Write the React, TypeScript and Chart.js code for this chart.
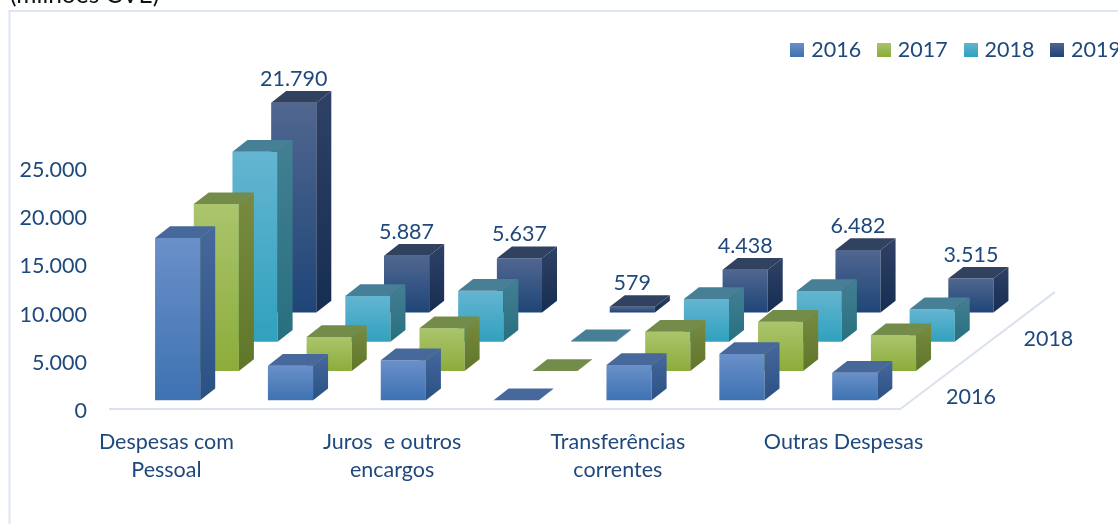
import React, { useEffect, useRef } from "react";
import { Chart, registerables } from "chart.js";

Chart.register(...registerables);

const categories: (string | string[])[] = [
  ["Despesas com", "Pessoal"],
  "",
  ["Juros  e outros", "encargos"],
  "",
  ["Transferências", "correntes"],
  "",
  "Outras Despesas",
];
const seriesNames = ["2016", "2017", "2018", "2019"];
const values2016 = [16870, 3600, 4160, 0, 3670, 4810, 2870];
const values2017 = [17350, 3530, 4440, 0, 4080, 5120, 3710];
const values2018 = [19750, 4750, 5300, 60, 4440, 5270, 3370];
const values2019 = [21790, 5887, 5637, 579, 4438, 6482, 3515];
const seriesValues = [values2016, values2017, values2018, values2019];
const depthTickLabels = ["2016", "", "2018", ""];
const yTicks = { min: 0, max: 25000, step: 5000 };

const TEXT = "#1f497d";
const FONT = "Lato, Carlito, Calibri, sans-serif";
const FONT_SIZE = 21.5;

type Shade = { front: [string, string]; side: [string, string]; top: string; solid: string };
const shades: Shade[] = [
  { front: ["#6a90c9", "#3e72b2"], side: ["#47689c", "#2a5184"], top: "#47689a", solid: "#4f81bd" },
  { front: ["#aac56c", "#8cac3b"], side: ["#788b42", "#5f7628"], top: "#748c49", solid: "#9bbb59" },
  { front: ["#64b5d1", "#30a1be"], side: ["#427f92", "#28707f"], top: "#467f96", solid: "#4bacc6" },
  { front: ["#506790", "#1f4578"], side: ["#2f4166", "#162d52"], top: "#30425f", solid: "#1f497d" },
];

const DEPTH_X = 15;
const DEPTH_Y = 11.7;
const STEP_X = 38.7;
const STEP_Y = -29.3;
const INSET_X = 11.2;
const INSET_Y = -9;
const LEGEND_SHIFT = 241;

const legendSwatch = (s: Shade) => {
  const c = document.createElement("canvas");
  c.width = 14;
  c.height = 14;
  const g = c.getContext("2d")!;
  const grad = g.createLinearGradient(0, 0, 0, 14);
  grad.addColorStop(0, s.front[0]);
  grad.addColorStop(1, s.front[1]);
  g.fillStyle = grad;
  g.fillRect(0, 0, 14, 14);
  return c;
};

const fmt = (v: number) => String(v).replace(/\B(?=(\d{3})+$)/g, ".");

const poly = (ctx: CanvasRenderingContext2D, pts: number[][], fill: string | CanvasGradient) => {
  ctx.beginPath();
  pts.forEach(([x, y], i) => (i ? ctx.lineTo(x, y) : ctx.moveTo(x, y)));
  ctx.closePath();
  ctx.fillStyle = fill;
  ctx.fill();
};

const drawBox = (
  ctx: CanvasRenderingContext2D,
  s: Shade,
  l: number,
  r: number,
  top: number,
  base: number
) => {
  const lin = (a: string, b: string, y0: number, y1: number) => {
    const g = ctx.createLinearGradient(0, y0, 0, Math.max(y1, y0 + 1));
    g.addColorStop(0, a);
    g.addColorStop(1, b);
    return g;
  };
  if (base - top > 0.5) {
    poly(ctx, [[l, top], [r, top], [r, base], [l, base]], lin(s.front[0], s.front[1], top, base));
    poly(
      ctx,
      [[r, top], [r + DEPTH_X, top - DEPTH_Y], [r + DEPTH_X, base - DEPTH_Y], [r, base]],
      lin(s.side[0], s.side[1], top - DEPTH_Y, base)
    );
  }
  poly(
    ctx,
    [[l, top], [l + DEPTH_X, top - DEPTH_Y], [r + DEPTH_X, top - DEPTH_Y], [r, top]],
    s.top
  );
};

const scene = {
  id: "scene3d",
  beforeLayout(chart: any) {
    const legend = chart.legend;
    if (legend && !legend.__wrapped) {
      const fit = legend.fit;
      legend.fit = function () {
        fit.call(this);
        this.height = 168.8 - chart.options.layout.padding.top;
      };
      legend.__wrapped = true;
    }
  },
  afterLayout(chart: any) {
    chart.legend.left += LEGEND_SHIFT;
    chart.legend.right += LEGEND_SHIFT;
  },
  beforeDraw(chart: any) {
    const { ctx, width, height } = chart;
    ctx.save();
    ctx.fillStyle = "#ffffff";
    ctx.fillRect(0, 0, width, height);
    ctx.strokeStyle = "#dce6f5";
    ctx.lineWidth = 2;
    ctx.beginPath();
    ctx.moveTo(9.5, height + 2);
    ctx.lineTo(9.5, 11);
    ctx.lineTo(width + 2, 11);
    ctx.stroke();
    ctx.fillStyle = "#111111";
    ctx.font = `24.5px ${FONT}`;
    ctx.textAlign = "left";
    ctx.textBaseline = "alphabetic";
    ctx.fillText("(milhões CVE)", 10, 3);
    ctx.restore();
  },
  beforeDatasetsDraw(chart: any) {
    const { ctx, chartArea } = chart;
    ctx.save();
    // side edge of the floor, running back from the end of the category axis
    ctx.strokeStyle = "#dbe2ee";
    ctx.lineWidth = 2;
    ctx.beginPath();
    ctx.moveTo(chartArea.right, chartArea.bottom);
    ctx.lineTo(chartArea.right + STEP_X * 4, chartArea.bottom + STEP_Y * 4);
    ctx.stroke();

    for (let d = seriesNames.length - 1; d >= 0; d--) {
      const meta = chart.getDatasetMeta(d);
      const ox = INSET_X + STEP_X * d;
      const oy = INSET_Y + STEP_Y * d;
      meta.data.forEach((el: any) => {
        const half = el.width / 2;
        drawBox(ctx, shades[d], el.x - half + ox, el.x + half + ox, el.y + oy, el.base + oy);
      });
    }

    ctx.fillStyle = TEXT;
    ctx.font = `${FONT_SIZE}px ${FONT}`;
    ctx.textAlign = "center";
    ctx.textBaseline = "middle";
    const last = seriesNames.length - 1;
    chart.getDatasetMeta(last).data.forEach((el: any, i: number) => {
      ctx.fillText(
        fmt(seriesValues[last][i]),
        el.x + INSET_X + STEP_X * last,
        el.y + INSET_Y + STEP_Y * last - 24
      );
    });
    depthTickLabels.forEach((t, d) => {
      if (!t) return;
      ctx.fillText(t, chartArea.right + 71 + STEP_X * d, chartArea.bottom - 12 + STEP_Y * d);
    });
    ctx.restore();
    return false;
  },
};

export default function App() {
  const ref = useRef<HTMLCanvasElement>(null);
  useEffect(() => {
    document.body.style.margin = "0";
    document.body.style.overflow = "hidden";
    const swatches = shades.map(legendSwatch);
    const chart = new Chart(ref.current!, {
      type: "bar",
      data: {
        labels: categories as any,
        datasets: seriesNames.map((name, i) => ({
          label: name,
          data: seriesValues[i],
          backgroundColor: shades[i].solid,
          grouped: false,
          barPercentage: 0.4,
          categoryPercentage: 1,
        })),
      },
      options: {
        animation: false,
        responsive: false,
        events: [],
        layout: { padding: { top: 19, left: 0, right: 1142 - 900, bottom: 0 } },
        font: { family: FONT, size: FONT_SIZE },
        plugins: {
          tooltip: { enabled: false },
          legend: {
            position: "top",
            align: "end",
            labels: {
              color: TEXT,
              font: { family: FONT, size: FONT_SIZE },
              padding: 20,
              usePointStyle: true,
              pointStyleWidth: 6,
              boxHeight: 14,
              generateLabels(chart: any) {
                const items = Chart.defaults.plugins.legend.labels.generateLabels(chart);
                items.forEach((it: any, i: number) => (it.pointStyle = swatches[i]));
                return items;
              },
            },
          },
        },
        scales: {
          x: {
            grid: { display: false, drawTicks: false },
            border: { display: true, color: "#dbe2ee", width: 2 },
            afterFit(s: any) {
              s.height = 524 - 409.3;
            },
            ticks: {
              autoSkip: false,
              maxRotation: 0,
              minRotation: 0,
              padding: 18,
              color: TEXT,
              font: { family: FONT, size: FONT_SIZE, lineHeight: 1.33 },
            },
          },
          y: {
            min: yTicks.min,
            max: yTicks.max,
            grid: { display: false, drawTicks: false },
            border: { display: false },
            afterFit(s: any) {
              s.width = 110;
            },
            ticks: {
              stepSize: yTicks.step,
              padding: 23,
              labelOffset: 1.5,
              color: TEXT,
              font: { family: FONT, size: FONT_SIZE },
              callback: (v: any) => fmt(Number(v)),
            },
          },
        },
      },
      plugins: [scene as any],
    });
    return () => chart.destroy();
  }, []);
  return (
    <div style={{ width: 1118, height: 524, overflow: "hidden" }}>
      <canvas ref={ref} width={1142} height={524} style={{ display: "block", width: 1142, height: 524 }} />
    </div>
  );
}
